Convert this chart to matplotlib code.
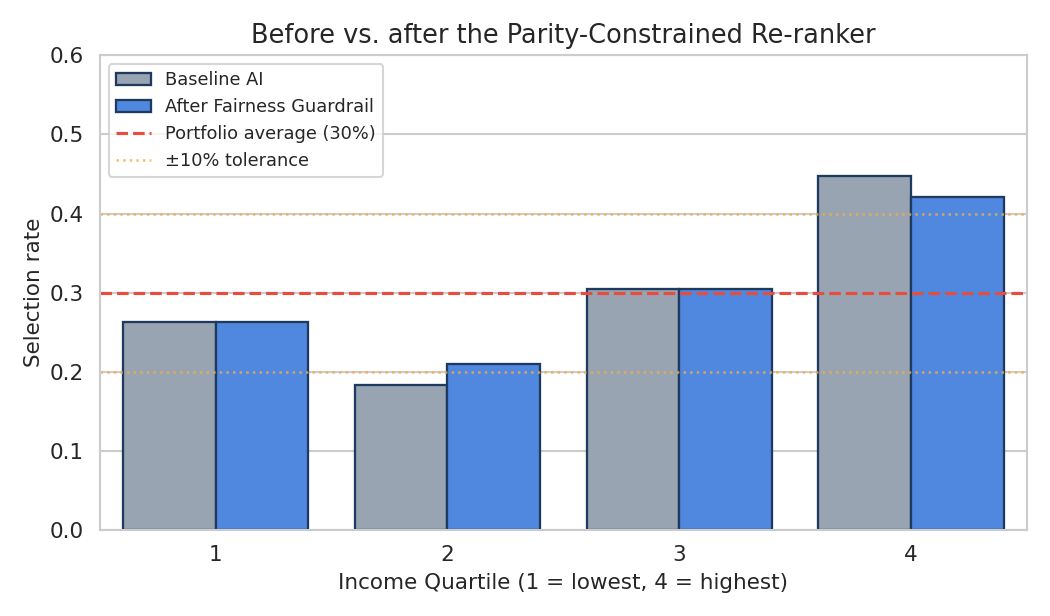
import matplotlib
matplotlib.use("Agg")
import matplotlib.pyplot as plt
import seaborn as sns
import numpy as np

sns.set_theme(style="whitegrid")
plt.rcParams['font.family'] = ['DejaVu Sans']

quartiles = ["1", "2", "3", "4"]
baseline = [0.263, 0.1835, 0.305, 0.448]
after = [0.263, 0.210, 0.305, 0.4215]
portfolio_avg = 0.30
tol_low, tol_high = 0.20, 0.40

fig, ax = plt.subplots(figsize=(7, 4.1067), dpi=150)
x = np.arange(len(quartiles))
w = 0.4
edge = "#1f3a5f"
b1 = ax.bar(x - w/2, baseline, width=w, color="#98a4b2", edgecolor=edge, linewidth=1.1, label="Baseline AI")
b2 = ax.bar(x + w/2, after, width=w, color="#5088e0", edgecolor=edge, linewidth=1.1, label="After Fairness Guardrail")
l1 = ax.axhline(portfolio_avg, color="#e74c3c", linestyle="--", linewidth=1.5, label="Portfolio average (30%)")
l2 = ax.axhline(tol_low, color="#f0ad4e", linestyle=":", linewidth=1.2, alpha=0.8, label="±10% tolerance")
ax.axhline(tol_high, color="#f0ad4e", linestyle=":", linewidth=1.2, alpha=0.8)

ax.set_xticks(x)
ax.set_xticklabels(quartiles)
ax.set_xlim(-0.5, 3.5)
ax.set_ylim(0, 0.6)
ax.tick_params(labelsize=10.3, length=0, pad=7.5)
ax.set_xlabel("Income Quartile (1 = lowest, 4 = highest)", fontsize=10.3, labelpad=3.5)
ax.set_ylabel("Selection rate", fontsize=10.3, labelpad=3)
ax.set_title("Before vs. after the Parity-Constrained Re-ranker", fontsize=12.3)
ax.xaxis.grid(False)
for s in ax.spines.values():
    s.set_linewidth(1.0)
ax.legend(handles=[b1, b2, l1, l2], loc="upper left", fontsize=8.5)
fig.subplots_adjust(left=0.095, right=0.978, top=0.91, bottom=0.14)
fig.savefig("out.png", dpi=150)
